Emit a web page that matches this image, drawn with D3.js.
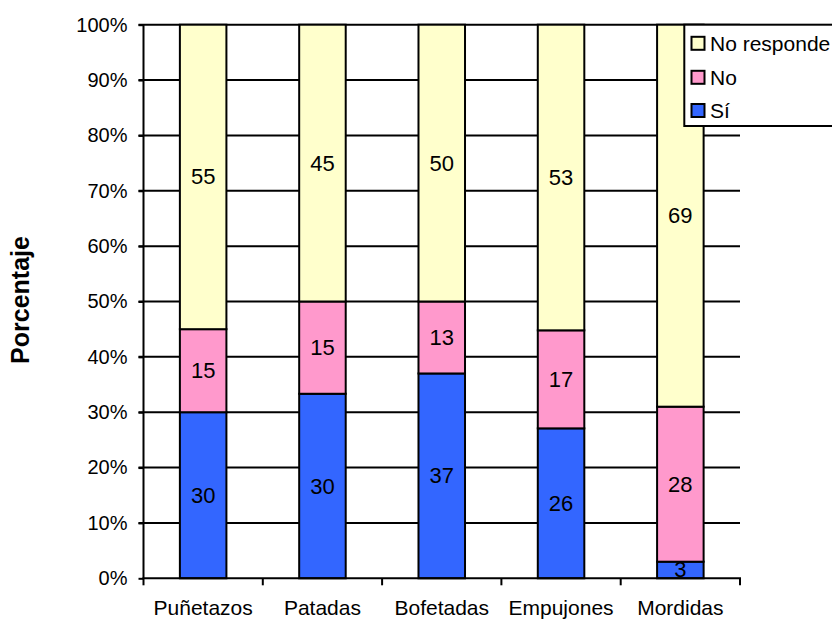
<!DOCTYPE html>
<html>
<head>
<meta charset="utf-8">
<script src="https://cdn.jsdelivr.net/npm/d3@7"></script>
<style>
  html, body { margin: 0; padding: 0; background: #fff; }
  svg { display: block; font-family: "Liberation Sans", Arial, sans-serif; }
</style>
</head>
<body>
<svg id="chart" width="832" height="619"></svg>
<script>
// Data
const categories = ["Puñetazos", "Patadas", "Bofetadas", "Empujones", "Mordidas"];
const seriesNames = ["Sí", "No", "No responde"];
const si = [30, 30, 37, 26, 3];
const no = [15, 15, 13, 17, 28];
const noResponde = [55, 45, 50, 53, 69];
const yTicks = [0, 10, 20, 30, 40, 50, 60, 70, 80, 90, 100];
const yTitle = "Porcentaje";
const colors = ["#3366FF", "#FF99CC", "#FFFFCC"];

(function () {
const svg = d3.select("#chart");
const pLeft = 143.5, pRight = 740, pTop = 24.7, pBottom = 578.3;

const x = d3.scaleBand().domain(categories).range([pLeft, pRight]).padding(0);
const y = d3.scaleLinear().domain([0, 100]).range([pBottom, pTop]);
const barW = x.bandwidth() * 0.39;

const rows = categories.map((c, i) => {
  const vals = [si[i], no[i], noResponde[i]];
  const tot = d3.sum(vals);
  return { cat: c, vals, pct: vals.map(v => v / tot * 100) };
});

// gridlines
svg.append("g").selectAll("line").data(yTicks.filter(t => t > 0)).join("line")
  .attr("x1", pLeft - 5).attr("x2", pRight)
  .attr("y1", d => y(d)).attr("y2", d => y(d))
  .attr("stroke", "#000").attr("stroke-width", 2);

// bars
const stackG = svg.append("g");
rows.forEach(r => {
  let acc = 0;
  r.pct.forEach((p, k) => {
    const y0 = acc, y1 = acc + p;
    acc = y1;
    const cx = x(r.cat) + x.bandwidth() / 2;
    stackG.append("rect")
      .attr("x", cx - barW / 2).attr("width", barW)
      .attr("y", y(y1)).attr("height", y(y0) - y(y1))
      .attr("fill", colors[k]).attr("stroke", "#000").attr("stroke-width", 2);
  });
});
// labels
rows.forEach(r => {
  let acc = 0;
  r.pct.forEach((p, k) => {
    const mid = acc + p / 2;
    acc += p;
    const cx = x(r.cat) + x.bandwidth() / 2;
    svg.append("text")
      .attr("x", cx).attr("y", y(mid))
      .attr("text-anchor", "middle").attr("dominant-baseline", "central")
      .attr("font-size", 22).attr("fill", "#000")
      .text(r.vals[k]);
  });
});

// y axis
const yAxis = d3.axisLeft(y).tickValues(yTicks).tickFormat(d => d + "%").tickSize(5).tickPadding(11);
const ya = svg.append("g").attr("transform", `translate(${pLeft},0)`).call(yAxis);
ya.select(".domain").attr("stroke", "#000").attr("stroke-width", 2).attr("d", `M0,${pBottom}V${pTop}`);
ya.selectAll(".tick line").attr("stroke", "#000").attr("stroke-width", 2);
ya.selectAll(".tick text").attr("font-size", 20).attr("fill", "#000").attr("font-family", "Liberation Sans, Arial, sans-serif");

// x axis
const xa = svg.append("g").attr("transform", `translate(0,${pBottom})`);
xa.append("line").attr("x1", pLeft - 1).attr("x2", pRight + 1).attr("y1", 0).attr("y2", 0)
  .attr("stroke", "#000").attr("stroke-width", 2);
const bounds = categories.map(c => x(c)).concat([pRight]);
xa.selectAll("line.tk").data(bounds).join("line").attr("class", "tk")
  .attr("x1", d => d).attr("x2", d => d).attr("y1", 0).attr("y2", 7)
  .attr("stroke", "#000").attr("stroke-width", 2);
xa.selectAll("text").data(categories).join("text")
  .attr("x", d => x(d) + x.bandwidth() / 2).attr("y", 37)
  .attr("text-anchor", "middle").attr("font-size", 21).attr("fill", "#000")
  .text(d => d);

// y title
svg.append("text")
  .attr("transform", "translate(29,300) rotate(-90)")
  .attr("text-anchor", "middle").attr("font-size", 25).attr("font-weight", "bold")
  .text(yTitle);

// legend
const lg = svg.append("g");
lg.append("rect").attr("x", 684.3).attr("y", 24.7).attr("width", 170).attr("height", 101.3)
  .attr("fill", "#fff").attr("stroke", "#000").attr("stroke-width", 2);
const legendOrder = [2, 1, 0];
const rowY = [43.3, 77.3, 110.5];
legendOrder.forEach((k, i) => {
  lg.append("rect").attr("x", 691.5).attr("y", rowY[i] - 6.5).attr("width", 13).attr("height", 13)
    .attr("fill", colors[k]).attr("stroke", "#000").attr("stroke-width", 2);
  lg.append("text").attr("x", 710).attr("y", rowY[i]).attr("dominant-baseline", "central")
    .attr("font-size", 21).attr("fill", "#000").text(seriesNames[k]);
});
})();
</script>
</body>
</html>
